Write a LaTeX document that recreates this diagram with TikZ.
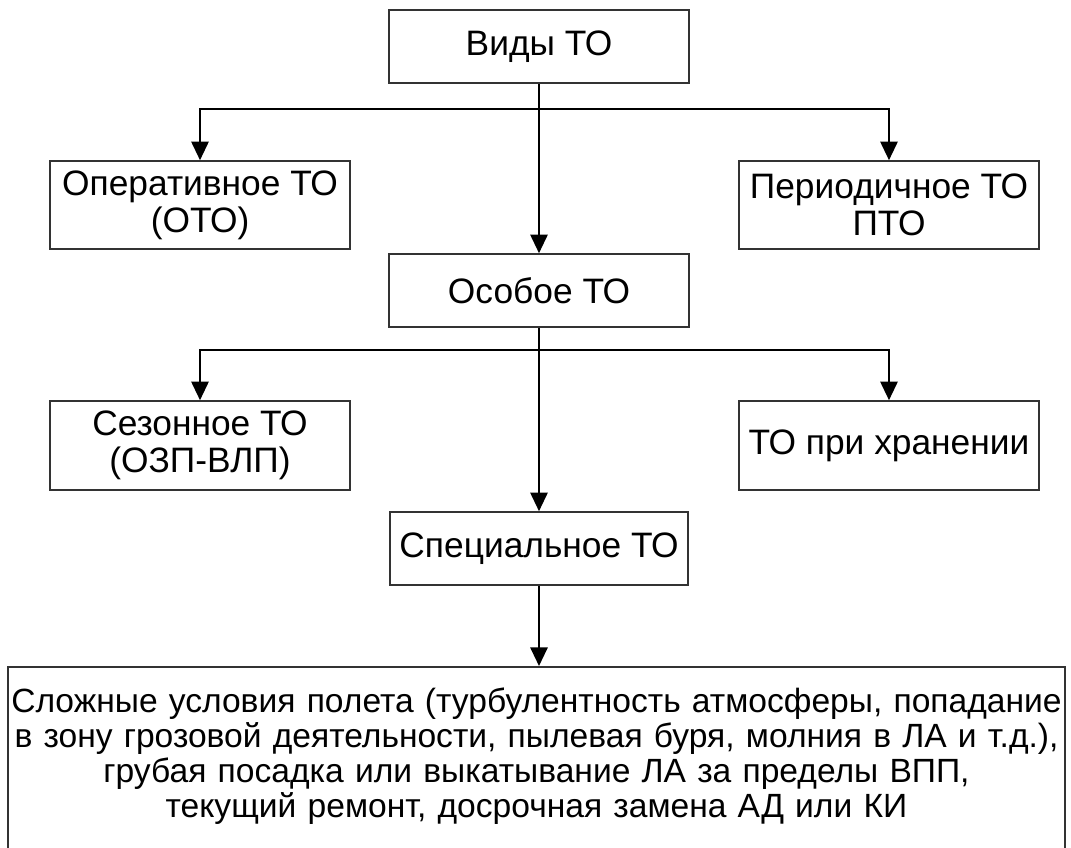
\documentclass[tikz,border=0pt]{standalone}
\usepackage{fontspec}
\setmainfont{Liberation Sans}
\usetikzlibrary{arrows.meta}

\tikzset{
  box/.style={draw=black!80, line width=1.2pt, inner sep=0pt, minimum width=225pt,
    align=center, font=\fontsize{26.5}{28}\selectfont},
  link/.style={line width=1.5pt, -{Triangle[length=14pt,width=13pt]}},
}

\begin{document}
\begin{tikzpicture}[x=0.75pt, y=-0.75pt]

\useasboundingbox (0,0) rectangle (1071,847);
\clip (0,0) rectangle (1071,847);

\node[box, minimum height=54.75pt] (vid) at (539,46.5) {Виды ТО};
\node[box, minimum height=66pt] (oper) at (200,205) {Оперативное ТО\\(ОТО)};
\node[box, minimum height=66pt] (period) at (889,205) {Периодичное ТО\\ПТО};
\node[box, minimum height=54.75pt] (osob) at (539,290.5) {Особое ТО};
\node[box, minimum height=66.75pt] (sezon) at (200,445.5) {Сезонное ТО\\(ОЗП-ВЛП)};
\node[box, minimum height=66.75pt] (hran) at (889,445.5) {ТО при хранении};
\node[box, minimum height=54.75pt, minimum width=223.5pt] (spec) at (539,548.5) {Специальное ТО};
\node[box, anchor=north, minimum width=792.75pt, text width=792pt, inner ysep=16pt,
  text depth=150pt, font=\fontsize{25.2}{26.2}\selectfont] (detail) at (536.5,666)
  {Сложные условия полета (турбулентность атмосферы, попадание\\
   в зону грозовой деятельности, пылевая буря, молния в ЛА и т.д.),\\
   грубая посадка или выкатывание ЛА за пределы ВПП,\\
   текущий ремонт, досрочная замена АД или КИ};

\coordinate (fork1) at (539,109);
\coordinate (fork2) at (539,350);

\draw[link] (vid) -- (osob);
\draw[link] (fork1) -| (oper);
\draw[link] (fork1) -| (period);
\draw[link] (osob) -- (spec);
\draw[link] (fork2) -| (sezon);
\draw[link] (fork2) -| (hran);
\draw[link] (spec) -- (spec |- detail.north);

\end{tikzpicture}
\end{document}
